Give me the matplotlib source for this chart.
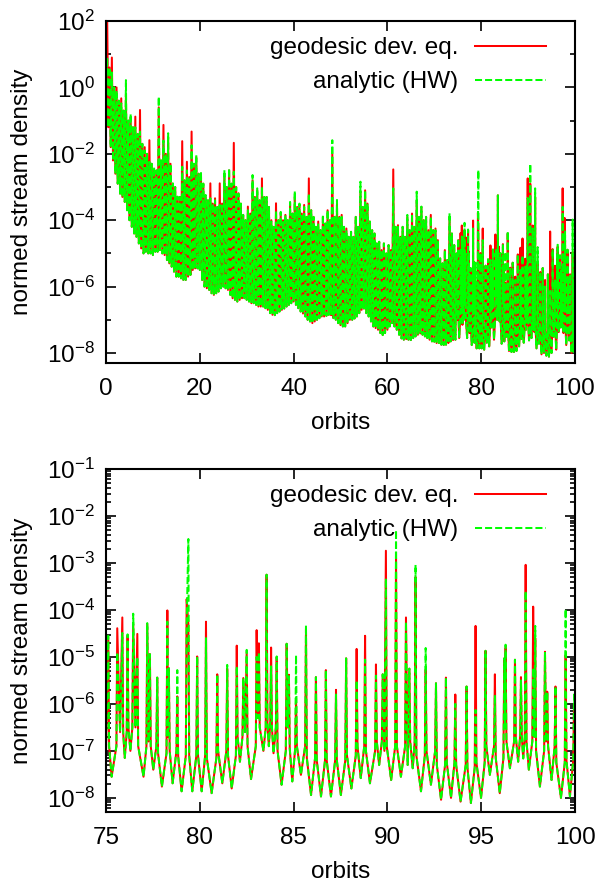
import numpy as np
import matplotlib
matplotlib.use("Agg")
import matplotlib.pyplot as plt
from matplotlib.ticker import FixedLocator, FuncFormatter, NullFormatter

# ---------------- data: log10(normed stream density) ----------------
# full run, orbits 0-75 (coarse: two peaks per orbit)
# troughs at whole orbits
coarse_trough_int = [-0.3, -1.8, -2.6, -3.2, -3.45, -4.0, -4.4, -4.7, -5.0, -5.0,
                     -5.05, -4.95, -5.0, -5.2, -5.4, -5.7, -5.75, -5.8, -5.65, -5.45,
                     -5.5, -6.0, -6.1, -6.25, -6.15, -6.0, -6.1, -6.35, -6.45, -6.35,
                     -6.4, -6.5, -6.55, -6.6, -6.65, -6.8, -6.86, -6.75, -6.66, -6.55,
                     -6.45, -6.65, -6.81, -7.0, -7.1, -7.0, -6.9, -6.88, -6.86, -7.0,
                     -7.16, -7.2, -7.0, -6.96, -6.8, -6.66, -6.9, -7.2, -7.3, -7.46,
                     -7.3, -7.1, -7.3, -7.56, -7.58, -7.61, -7.5, -7.41, -7.5, -7.6,
                     -7.66, -7.7, -7.76, -7.7, -7.61]
# troughs at half orbits
coarse_trough_half = [-1.2, -2.2, -2.9, -3.3, -3.7, -4.2, -4.5, -4.85, -4.95, -5.0,
                      -4.95, -4.9, -5.05, -5.3, -5.55, -5.7, -5.8, -5.7, -5.5, -5.45,
                      -5.8, -6.05, -6.2, -6.2, -6.05, -6.05, -6.25, -6.4, -6.4, -6.35,
                      -6.45, -6.5, -6.6, -6.6, -6.7, -6.85, -6.8, -6.7, -6.6, -6.5,
                      -6.55, -6.75, -6.9, -7.05, -7.05, -6.95, -6.9, -6.85, -6.95, -7.1,
                      -7.2, -7.1, -7.0, -6.9, -6.7, -6.8, -7.05, -7.25, -7.4, -7.4,
                      -7.2, -7.2, -7.45, -7.6, -7.6, -7.55, -7.45, -7.45, -7.55, -7.65,
                      -7.7, -7.75, -7.75, -7.65, -7.6]
# main peak of each orbit (quarter orbit)
coarse_peak_geo = [2.1, 0.9, 0.0, -0.33, -0.2, -0.9, -0.88, -0.68, -1.8, -1.59,
                   -2.5, -0.6, -1.13, -1.5, -2.9, -3.3, -1.62, -2.24, -1.33, -2.1,
                   -2.6, -3.3, -2.89, -3.34, -2.89, -2.6, -2.5, -1.67, -3.19, -3.84,
                   -3.59, -2.8, -3.1, -2.74, -3.3, -4.0, -3.49, -3.8, -3.84, -3.5,
                   -3.3, -3.55, -3.54, -2.74, -3.9, -4.04, -3.9, -3.7, -2.0, -3.5,
                   -3.84, -4.25, -4.35, -3.9, -3.14, -3.1, -4.04, -4.4, -4.65, -4.7,
                   -4.75, -2.47, -4.15, -4.2, -3.9, -3.8, -3.4, -3.6, -3.9, -3.84,
                   -4.25, -5.15, -4.9, -3.9, -4.75]
coarse_peak_hw = [0.9, 0.45, -0.1, -0.48, 0.22, -0.8, -1.2, -1.33, -1.9, -2.24,
                  -2.4, -0.28, -1.6, -1.38, -2.89, -3.29, -2.39, -2.5, -1.74, -2.04,
                  -2.54, -3.24, -3.34, -3.4, -3.54, -2.49, -2.44, -2.54, -3.2, -3.84,
                  -3.7, -2.64, -3.04, -3.0, -3.3, -4.04, -3.7, -3.75, -3.84, -3.45,
                  -3.12, -3.5, -3.6, -3.2, -3.9, -4.1, -3.84, -3.7, -1.59, -3.39,
                  -3.9, -4.3, -4.35, -3.9, -2.84, -3.1, -4.04, -4.4, -4.65, -4.7,
                  -4.75, -3.04, -4.2, -4.2, -3.84, -3.8, -3.14, -3.59, -3.9, -3.9,
                  -4.3, -5.15, -4.9, -3.79, -4.75]
# second (lower) peak of each orbit (three-quarter orbit), both curves
coarse_peak_second = [0.6, 0.0, -0.4, -0.7, -1.0, -1.2, -1.4, -1.7, -2.0, -2.3,
                      -2.5, -2.2, -2.0, -2.3, -3.0, -3.3, -2.8, -2.7, -2.3, -2.6,
                      -2.9, -3.4, -3.5, -3.6, -3.5, -3.0, -2.9, -3.0, -3.5, -4.0,
                      -3.8, -3.3, -3.4, -3.3, -3.6, -4.2, -4.0, -4.0, -4.0, -3.8,
                      -3.6, -3.8, -3.9, -3.7, -4.2, -4.3, -4.1, -4.0, -3.9, -3.9,
                      -4.2, -4.5, -4.5, -4.2, -3.6, -3.5, -4.3, -4.7, -4.9, -5.0,
                      -4.9, -4.2, -4.5, -4.5, -4.3, -4.2, -3.9, -4.0, -4.3, -4.3,
                      -4.6, -5.3, -5.2, -4.4, -5.0]
coarse_orbit = list(range(0, 75))

# orbits 75-100 (every peak)
fine_peak_orbit = [75.12, 75.60, 75.87, 76.15, 76.45, 76.67, 77.20, 77.34, 77.73, 78.27,
                   78.35, 78.80, 79.30, 79.39, 79.86, 80.33, 80.93, 81.46, 81.97, 82.32,
                   82.50, 83.03, 83.15, 83.56, 83.80, 84.10, 84.63, 84.75, 85.13, 85.66,
                   86.19, 86.72, 87.26, 87.80, 88.36, 88.81, 89.39, 89.75, 89.92, 90.46,
                   90.99, 91.17, 91.50, 92.04, 92.59, 93.12, 93.62, 94.22, 94.70, 95.23,
                   95.73, 96.23, 96.30, 96.80, 97.12, 97.37, 97.77, 97.88, 98.40, 98.52,
                   98.96, 99.50, 99.95]
fine_peak_geo = [-4.6, -4.39, -4.16, -4.55, -4.3, -4.51, -4.3, -4.94, -5.44, -4.01,
                 -5.24, -5.84, -3.77, -4.3, -4.99, -4.25, -5.37, -5.25, -4.76, -5.45,
                 -4.9, -4.43, -4.71, -3.25, -4.8, -5.0, -4.72, -5.38, -5.88, -4.4,
                 -5.43, -5.28, -5.7, -5.03, -4.83, -4.55, -5.16, -5.37, -2.74, -2.9,
                 -4.16, -5.25, -3.3, -5.27, -5.56, -5.44, -5.8, -5.63, -4.34, -4.87,
                 -5.37, -5.03, -4.8, -5.06, -5.43, -3.04, -3.93, -4.6, -4.89, -5.74,
                 -5.63, -4.96, -6.0]
fine_peak_hw = [-4.55, -4.9, -4.49, -4.52, -4.08, -5.0, -4.28, -4.94, -5.44, -4.25,
                -5.24, -5.28, -4.3, -2.49, -4.99, -4.6, -5.37, -5.17, -5.2, -5.45,
                -4.85, -5.0, -4.9, -3.25, -5.2, -4.99, -4.72, -5.38, -4.96, -4.33,
                -5.43, -5.28, -5.8, -5.03, -5.5, -5.06, -5.4, -5.37, -3.33, -2.3,
                -4.25, -5.25, -3.04, -4.81, -5.56, -5.44, -6.0, -5.63, -6.13, -4.87,
                -5.81, -5.03, -4.74, -5.06, -5.5, -3.6, -5.24, -4.34, -4.89, -5.74,
                -5.63, -3.98, -5.8]
fine_trough_orbit = [75.00, 75.30, 75.75, 76.00, 76.30, 76.57, 77.00, 77.27, 77.52, 77.98,
                     78.31, 78.55, 79.03, 79.60, 80.10, 80.63, 81.20, 81.70, 82.14, 82.41,
                     82.73, 83.09, 83.39, 83.68, 83.93, 84.36, 84.69, 84.93, 85.39, 85.93,
                     86.46, 86.99, 87.52, 88.08, 88.58, 89.07, 89.56, 89.84, 90.20, 90.72,
                     91.08, 91.35, 91.79, 92.32, 92.86, 93.39, 93.90, 94.45, 94.99, 95.46,
                     95.99, 96.27, 96.53, 96.97, 97.24, 97.54, 97.83, 98.13, 98.46, 98.75,
                     99.25, 99.73, 100.10]
fine_trough = [-7.0, -7.55, -6.6, -7.15, -7.0, -6.5, -7.55, -6.8, -7.4, -7.76,
               -6.7, -7.69, -7.86, -7.86, -7.86, -7.9, -7.69, -7.8, -7.23, -6.6,
               -7.6, -6.3, -7.0, -6.9, -7.05, -7.72, -6.5, -7.65, -7.51, -7.94,
               -7.97, -7.97, -7.94, -7.8, -7.58, -7.69, -7.3, -7.0, -7.62, -7.55,
               -7.3, -7.37, -7.86, -7.72, -8.04, -8.0, -8.08, -8.11, -8.0, -7.51,
               -7.9, -6.5, -7.37, -7.23, -7.16, -7.4, -6.7, -7.76, -6.8, -7.62,
               -8.0, -7.97, -7.5]
# level where each valley meets the foot of the neighbouring spikes (nan: no distinct valley)
nan = float("nan")
fine_rim = [nan, -6.9, nan, -6.6, -6.5, nan, -6.9, nan, -6.9, -7.05,
            nan, -7.0, -7.1, -7.1, -7.1, -7.15, -7.0, -7.1, -6.7, nan,
            -6.9, nan, -6.5, -6.4, -6.5, -7.0, nan, -6.95, -6.9, -7.15,
            -7.2, -7.2, -7.2, -7.1, -6.9, -7.0, -6.8, nan, -6.9, -6.9,
            nan, -6.8, -7.1, -7.0, -7.3, -7.25, -7.3, -7.35, -7.25, -6.9,
            -7.15, nan, -6.8, -6.7, -6.7, -6.8, nan, -7.0, nan, -6.9,
            -7.25, -7.2, nan]

labels = ["geodesic dev. eq.", "analytic (HW)"]
top_major = [-8, -6, -4, -2, 0, 2]
top_minor = [-7, -5, -3, -1, 1]
bot_major = [-8, -7, -6, -5, -4, -3, -2, -1]

RIM_DX = 0.045   # horizontal distance (orbits) of a valley rim from its spike


def coarse_series(main_peaks):
    o = np.asarray(coarse_orbit, float)
    x = np.concatenate([o, o + 0.5, o + 0.25, o + 0.75])
    y = np.concatenate([coarse_trough_int, coarse_trough_half, main_peaks, coarse_peak_second])
    k = np.argsort(x, kind="stable")
    return x[k], 10.0 ** y[k]


def fine_series(peaks):
    px = np.asarray(fine_peak_orbit, float)
    xs = list(px) + list(fine_trough_orbit)
    ys = list(peaks) + list(fine_trough)
    for tx, rim in zip(fine_trough_orbit, fine_rim):
        if np.isnan(rim):
            continue
        left = px[px < tx].max()
        right = px[px > tx].min()
        xs += [left + RIM_DX, right - RIM_DX]
        ys += [rim, rim]
    xs, ys = np.asarray(xs), np.asarray(ys)
    k = np.argsort(xs, kind="stable")
    return xs[k], 10.0 ** ys[k]


fx_geo, fy_geo = fine_series(fine_peak_geo)
fx_hw, fy_hw = fine_series(fine_peak_hw)
cx_geo, cy_geo = coarse_series(coarse_peak_geo)
cx_hw, cy_hw = coarse_series(coarse_peak_hw)
ax_geo, ay_geo = np.concatenate([cx_geo, fx_geo]), np.concatenate([cy_geo, fy_geo])
ax_hw, ay_hw = np.concatenate([cx_hw, fx_hw]), np.concatenate([cy_hw, fy_hw])

# ---------------- style ----------------
plt.rcParams["font.family"] = ["Liberation Sans", "DejaVu Sans"]
plt.rcParams["mathtext.fontset"] = "custom"
plt.rcParams["mathtext.rm"] = "Liberation Sans"
plt.rcParams["mathtext.it"] = "Liberation Sans:italic"
plt.rcParams["mathtext.bf"] = "Liberation Sans:bold"
FS = 17.5
RED = "#ff0000"
GREEN = "#00ff00"
LW = 1.45

fig = plt.figure(figsize=(6.0, 8.86), dpi=100)
ax1 = fig.add_axes([106 / 600, 1 - 363 / 886, 469 / 600, 342 / 886])
ax2 = fig.add_axes([106 / 600, 1 - 812 / 886, 469 / 600, 343 / 886])

sup = FuncFormatter(lambda v, p: r"$10^{%d}$" % int(round(np.log10(v))))


def style(ax, xlim, xticks, ymaj, ymin, ylim):
    ax.set_yscale("log")
    ax.set_xlim(*xlim)
    ax.set_ylim(*ylim)
    ax.set_xticks(xticks)
    ax.set_xticklabels([str(t) for t in xticks])
    ax.yaxis.set_major_locator(FixedLocator([10.0 ** e for e in ymaj]))
    ax.yaxis.set_minor_locator(FixedLocator(ymin))
    ax.yaxis.set_major_formatter(sup)
    ax.yaxis.set_minor_formatter(NullFormatter())
    ax.tick_params(which="both", direction="in", top=True, right=True, width=1.2,
                   labelsize=FS)
    ax.tick_params(which="major", length=7.5)
    ax.tick_params(which="minor", length=3.8)
    ax.tick_params(axis="x", pad=10.5)
    ax.tick_params(axis="y", pad=8)
    for s in ax.spines.values():
        s.set_linewidth(1.5)
    ax.set_xlabel("orbits", fontsize=FS, labelpad=9)
    ax.set_ylabel("normed stream density", fontsize=FS)
    ax.yaxis.set_label_coords(-0.156, 0.5)


for ax, (xg, yg, xh, yh) in [(ax1, (ax_geo, ay_geo, ax_hw, ay_hw)),
                            (ax2, (fx_geo, fy_geo, fx_hw, fy_hw))]:
    ax.plot(xg, yg, color=RED, lw=LW, label=labels[0])
    ax.plot(xh, yh, color=GREEN, lw=LW, dashes=(3.5, 1.5), label=labels[1])
    ax.legend(loc="upper right", bbox_to_anchor=(0.938, 0.952), frameon=False,
              markerfirst=False, handlelength=2.9, handletextpad=0.7,
              labelspacing=0.48, borderaxespad=0, borderpad=0, fontsize=FS)

style(ax1, (0, 100), [0, 20, 40, 60, 80, 100], top_major,
      [10.0 ** e for e in top_minor], (5e-9, 1e2))
bot_minor = [m * 10.0 ** e for e in range(-9, -1) for m in range(2, 10)]
style(ax2, (75, 100), [75, 80, 85, 90, 95, 100], bot_major, bot_minor, (5e-9, 1e-1))

fig.savefig("out.png", dpi=100)
